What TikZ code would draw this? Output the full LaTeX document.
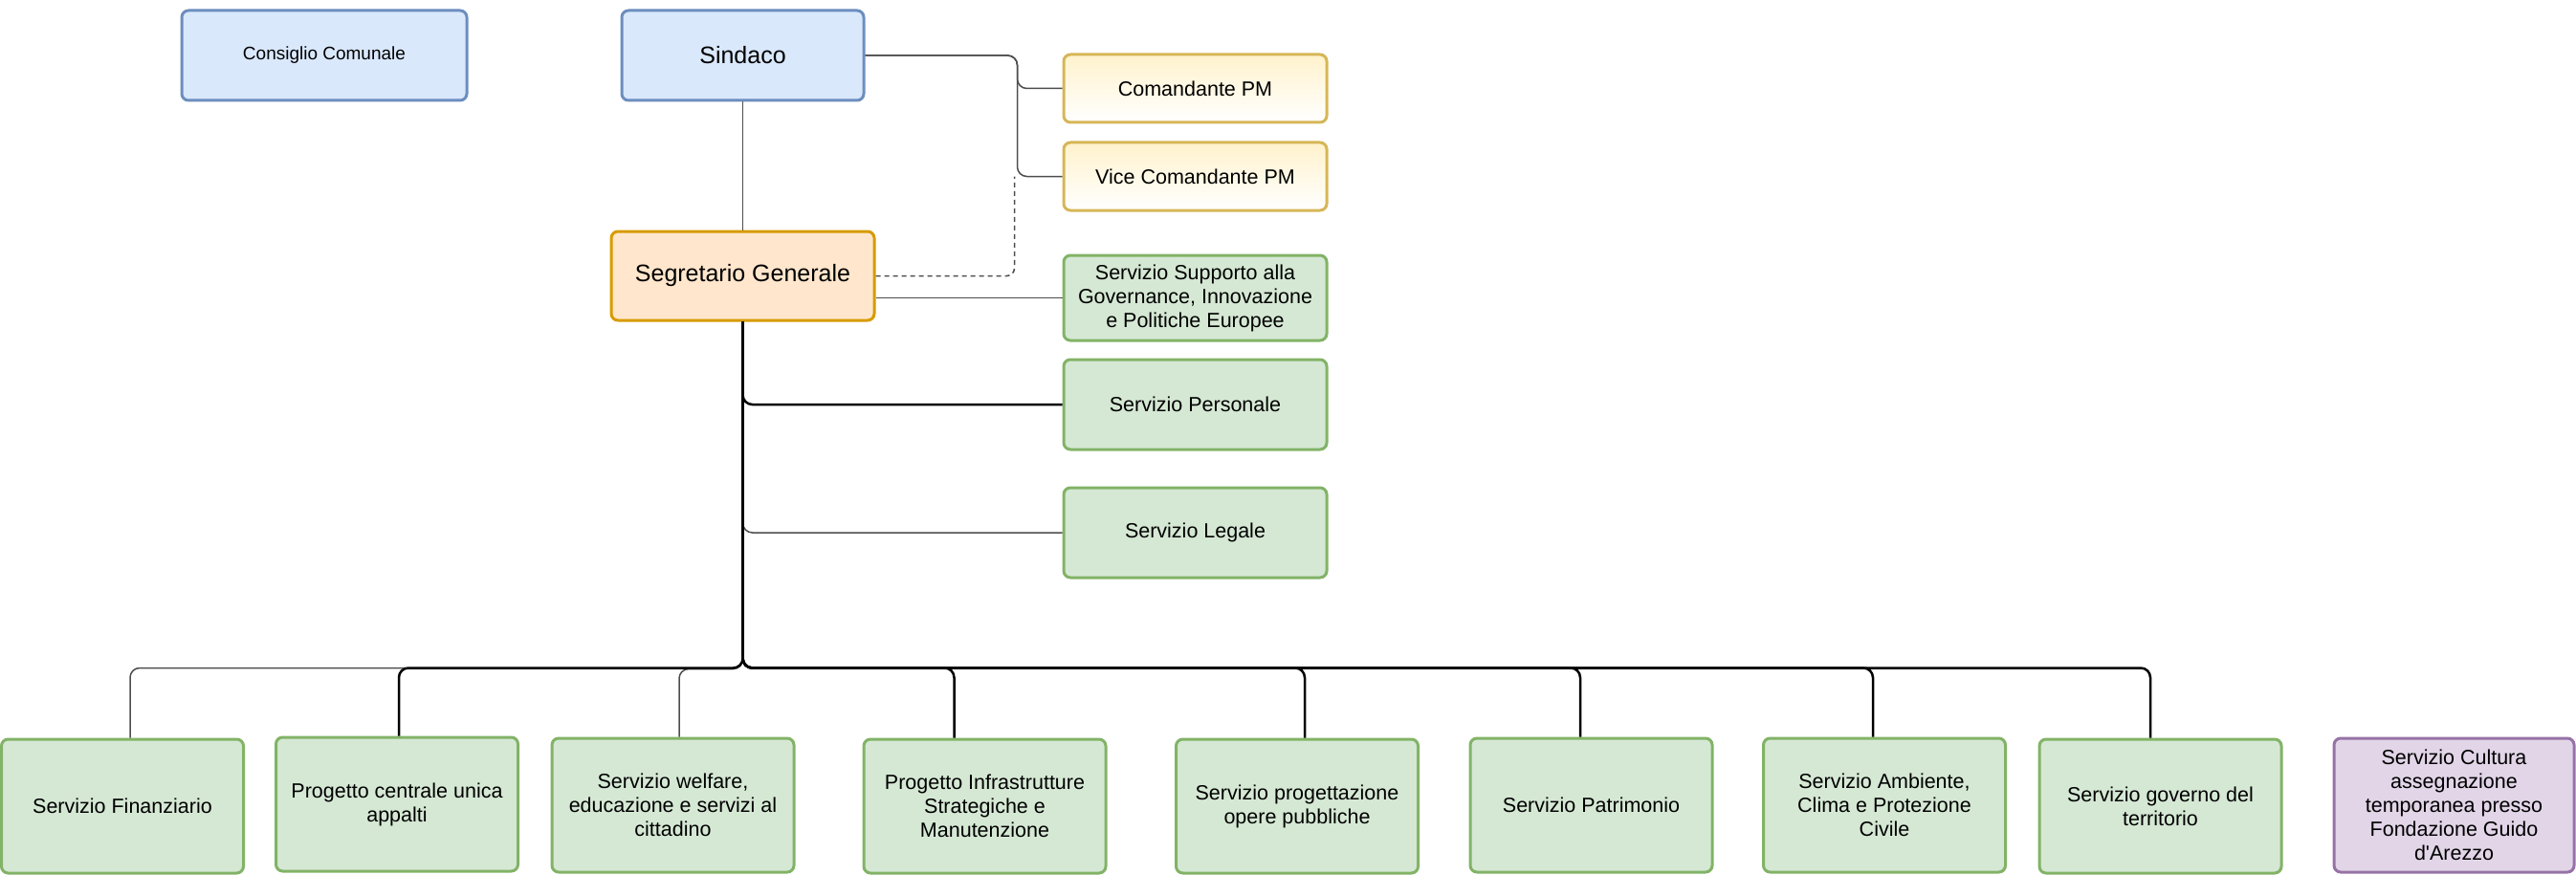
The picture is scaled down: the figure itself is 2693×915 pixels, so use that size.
\documentclass[tikz,border=0pt]{standalone}
\usepackage{fontspec}
\setmainfont{Liberation Sans}
\definecolor{bluef}{HTML}{DAE8FC}
\definecolor{blued}{HTML}{6C8EBF}
\definecolor{yelf}{HTML}{FFF2CC}
\definecolor{yeld}{HTML}{D6B656}
\definecolor{orgf}{HTML}{FFE6CC}
\definecolor{orgd}{HTML}{D79B00}
\definecolor{grnf}{HTML}{D5E8D4}
\definecolor{grnd}{HTML}{82B366}
\definecolor{purf}{HTML}{E1D5E7}
\definecolor{purd}{HTML}{9673A6}
\definecolor{linegray}{HTML}{4D4D4D}
\begin{document}
\begin{tikzpicture}[x=1pt,y=-1pt]
\tikzset{
  bx/.style={draw, rounded corners=7pt, line width=3pt, align=center, inner sep=2pt, text=black},
  bluebox/.style={bx, fill=bluef, draw=blued},
  yelbox/.style={bx, top color=yelf, bottom color=white, draw=yeld},
  orgbox/.style={bx, fill=orgf, draw=orgd},
  grnbox/.style={bx, fill=grnf, draw=grnd},
  purbox/.style={bx, fill=purf, draw=purd},
  txt/.style={font=\fontsize{21.5}{25}\selectfont},
  bigtxt/.style={font=\fontsize{25}{29}\selectfont},
  smalltxt/.style={font=\fontsize{19}{23}\selectfont},
  sidebox/.style={minimum width=275pt},
  botbox/.style={grnbox, txt, minimum width=253pt, minimum height=140pt},
  conn/.style={line width=2.5pt, black, rounded corners=10pt},
  gconn/.style={line width=1.5pt, color=linegray, rounded corners=10pt},
  dconn/.style={line width=1.5pt, color=linegray, dash pattern=on 5pt off 4pt, rounded corners=8pt},
}
\useasboundingbox (0,0) rectangle (2693,915);

% top nodes
\node[bluebox, smalltxt, minimum width=298pt, minimum height=94pt] (consiglio) at (339,58) {Consiglio Comunale};
\node[bluebox, bigtxt, minimum width=253pt, minimum height=94pt] (sindaco) at (776.5,58) {Sindaco};
\node[orgbox, bigtxt, minimum width=275pt, minimum height=93pt] (seg) at (776.5,288.5) {Segretario Generale};

\node[yelbox, txt, sidebox, minimum height=71pt] (coman) at (1249.5,92.5) {Comandante PM};
\node[yelbox, txt, sidebox, minimum height=71pt] (vice) at (1249.5,184.5) {Vice Comandante PM};
\node[grnbox, txt, sidebox, minimum height=89pt] (supporto) at (1249.5,311.5) {Servizio Supporto alla\\Governance, Innovazione\\e Politiche Europee};
\node[grnbox, txt, sidebox, minimum height=94pt] (personale) at (1249.5,423) {Servizio Personale};
\node[grnbox, txt, sidebox, minimum height=94pt] (legale) at (1249.5,557) {Servizio Legale};

% bottom nodes
\node[botbox] (b1) at (128,843) {Servizio Finanziario};
\node[botbox] (b2) at (415,841) {Progetto centrale unica\\appalti};
\node[botbox] (b3) at (703.5,842) {Servizio welfare,\\educazione e servizi al\\cittadino};
\node[botbox] (b4) at (1029.5,843) {Progetto Infrastrutture\\Strategiche e\\Manutenzione};
\node[botbox] (b5) at (1356,843) {Servizio progettazione\\opere pubbliche};
\node[botbox] (b6) at (1663.5,842) {Servizio Patrimonio};
\node[botbox] (b7) at (1970,842) {Servizio Ambiente,\\Clima e Protezione\\Civile};
\node[botbox] (b8) at (2258.5,843) {Servizio governo del\\territorio};
\node[purbox, txt, minimum width=251pt, minimum height=140pt] (b9) at (2565.5,842) {Servizio Cultura\\assegnazione\\temporanea presso\\Fondazione Guido\\d\textquotesingle Arezzo};

% connectors (gray first)
\draw[gconn] (sindaco.south) -- (seg.north);
\draw[gconn] (sindaco.east) -- ++(159,0) |- (coman.west);
\draw[gconn] (sindaco.east) -- ++(159,0) |- (vice.west);
\draw[dconn] (seg.east) -| ([xshift=-50pt]vice.west);
\draw[gconn] (seg.east |- supporto.west) -- (supporto.west);
\draw[gconn] (seg.south) |- (legale.west);
\draw[gconn] (seg.south) |- ([xshift=8pt,yshift=73pt]b1.north) -- ([xshift=8pt]b1.north);
\draw[gconn] (seg.south) |- ([xshift=6.5pt,yshift=71pt]b3.north) -- ([xshift=6.5pt]b3.north);

% black connectors
\draw[conn] (seg.south) |- (personale.west);
\draw[conn] (seg.south) |- ([xshift=2pt,yshift=71pt]b2.north) -- ([xshift=2pt]b2.north);
\draw[conn] (seg.south) |- ([xshift=-32pt,yshift=73pt]b4.north) -- ([xshift=-32pt]b4.north);
\draw[conn] (seg.south) |- ([xshift=8pt,yshift=73pt]b5.north) -- ([xshift=8pt]b5.north);
\draw[conn] (seg.south) |- ([xshift=-11.5pt,yshift=72pt]b6.north) -- ([xshift=-11.5pt]b6.north);
\draw[conn] (seg.south) |- ([xshift=-12pt,yshift=72pt]b7.north) -- ([xshift=-12pt]b7.north);
\draw[conn] (seg.south) |- ([xshift=-10.5pt,yshift=73pt]b8.north) -- ([xshift=-10.5pt]b8.north);
\end{tikzpicture}
\end{document}
